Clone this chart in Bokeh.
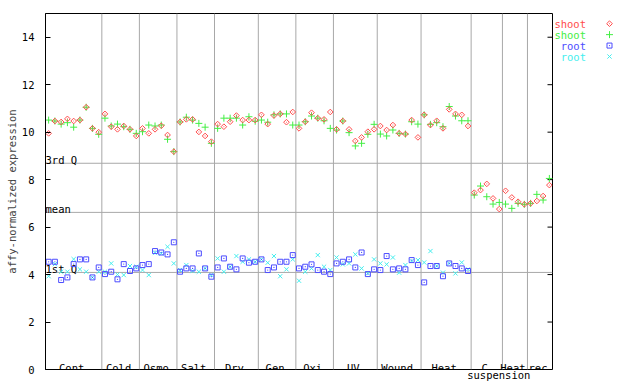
import numpy as np
from bokeh.plotting import figure
from bokeh.layouts import row
from bokeh.models import Range1d, SingleIntervalTicker, Span
from bokeh.core.properties import value
from bokeh.embed import file_html
from bokeh.resources import INLINE

# ---------------- data ----------------
groups = ["Cont", "Cold", "Osmo", "Salt", "Dry", "Gen", "Oxi", "UV", "Wound", "Heat", "C", "Heat", "rec"]
group_sizes = [9, 6, 6, 6, 7, 6, 6, 7, 7, 8, 5, 4, 4]
sub_label = "suspension"
sub_label_group = 10

shoot1 = [9.95, 10.47, 10.43, 10.56, 10.47, 10.51, 11.05, 10.16, 10.00,
          10.77, 10.23, 10.12, 10.26, 10.12, 9.84,
          10.16, 9.95, 10.12, 10.27, 9.88, 9.18,
          10.43, 10.54, 10.54, 10.01, 9.84, 9.60,
          10.34, 10.23, 10.44, 10.70, 10.51, 10.51, 10.51,
          10.73, 10.34, 10.70, 10.77, 10.42, 10.85,
          10.16, 10.44, 10.82, 10.59, 10.54, 10.85,
          10.12, 10.47, 10.12, 9.63, 9.78, 10.02, 10.12,
          10.26, 10.09, 10.30, 9.95, 9.92, 10.51, 9.78,
          10.73, 10.30, 10.48, 10.16, 10.96, 10.77, 10.73, 10.26,
          7.45, 7.56, 7.82, 7.21, 6.76,
          7.53, 7.25, 7.07, 6.96,
          7.00, 7.10, 7.31, 7.77]
shoot2 = [10.51, 10.47, 10.34, 10.40, 10.21, 10.51, 11.05, 10.16, 9.91,
          10.59, 10.26, 10.34, 10.23, 10.12, 9.95,
          10.02, 10.30, 10.26, 10.30, 9.70, 9.18,
          10.43, 10.63, 10.51, 10.37, 10.21, 9.53,
          10.16, 10.59, 10.59, 10.59, 10.30, 10.65, 10.46,
          10.51, 10.42, 10.73, 10.77, 10.77, 10.30,
          10.30, 10.44, 10.68, 10.59, 10.48, 10.16,
          10.09, 10.47, 9.98, 9.42, 9.53, 9.91, 10.33,
          9.92, 9.84, 10.09, 9.95, 9.92, 10.44, 10.34,
          10.73, 10.33, 10.40, 10.23, 11.08, 10.68, 10.48, 10.48,
          7.35, 7.73, 7.28, 6.97, 7.04,
          6.97, 6.79, 7.00, 6.96,
          7.00, 7.38, 7.14, 8.05]
root1 = [4.54, 4.54, 3.77, 3.88, 4.44, 4.64, 4.64, 3.88, 4.30,
         4.02, 4.12, 3.80, 4.44, 4.15, 4.26,
         4.40, 4.44, 4.99, 4.93, 4.85, 5.36,
         4.12, 4.26, 4.26, 4.89, 4.26, 3.91,
         4.30, 4.68, 4.33, 4.22, 4.68, 4.50, 4.54,
         4.64, 4.19, 4.30, 4.54, 4.54, 4.82,
         4.26, 4.33, 4.43, 4.19, 4.12, 4.02,
         4.47, 4.54, 4.64, 4.30, 4.93, 4.02, 4.22,
         4.19, 4.78, 4.22, 4.26, 4.22, 4.61, 4.40,
         3.67, 4.36, 4.36, 3.93, 4.47, 4.36, 4.26, 4.15]
root2 = [3.93, 4.44, 4.12, 4.12, 4.65, 4.22, 4.12, 3.88, 4.12,
         4.12, 4.47, 4.00, 3.98, 4.36, 4.33,
         4.19, 3.98, 4.92, 4.89, 5.17, 4.47,
         4.19, 4.40, 4.15, 4.12, 4.26, 3.98,
         4.68, 4.12, 4.33, 4.78, 4.54, 4.64, 4.54,
         4.64, 4.50, 4.78, 3.93, 4.22, 4.64,
         3.74, 4.12, 4.26, 4.82, 4.33, 4.19,
         4.72, 4.43, 4.47, 4.85, 4.26, 4.05, 4.64,
         4.47, 4.43, 4.72, 4.08, 4.40, 4.57, 4.61,
         4.51, 4.99, 4.36, 4.08, 4.47, 4.05, 4.51, 4.22]

stat_names = ["3rd Q", "mean", "1st Q"]
stat_values = [8.69, 6.62, 4.09]

series_names = ["shoot", "shoot", "root", "root"]
y_ticks = [0, 2, 4, 6, 8, 10, 12, 14]

# ---------------- styles ----------------
FONT = "DejaVu Sans Mono"
FS = "10.5px"
RED, GREEN, BLUE, CYAN = "#ff4c4c", "#44ee44", "#4c4cff", "#44eeee"
GRAY = "#a8a8a8"
DIAMOND_SIZE = 4.0

n_total = sum(group_sizes)
bounds = np.cumsum([0] + group_sizes)
centers = [(bounds[i] + bounds[i + 1]) / 2 for i in range(len(groups))]

TOP, LEFT, BOTTOM, RIGHT = 13, 45, 15, 1
FW, FH = 507, 356
TOTAL_H = TOP + FH + BOTTOM

p = figure(frame_width=FW, frame_height=FH,
           x_range=Range1d(0, n_total), y_range=Range1d(0, 15),
           output_backend="svg", toolbar_location=None,
           min_border_left=LEFT, min_border_top=TOP, min_border_bottom=BOTTOM, min_border_right=RIGHT,
           background_fill_color="white", border_fill_color="white")
p.outline_line_color = "black"
p.outline_line_width = 1
p.xgrid.visible = False
p.ygrid.visible = False
p.xaxis.visible = False

# y axis
p.yaxis.ticker = SingleIntervalTicker(interval=2, num_minor_ticks=0)
p.yaxis.major_tick_in = 5
p.yaxis.major_tick_out = 0
p.yaxis.minor_tick_line_color = None
p.yaxis.major_label_standoff = 11
p.yaxis.major_label_text_font = FONT
p.yaxis.major_label_text_font_size = FS
p.yaxis.major_label_text_color = "black"
p.yaxis.axis_label = "affy-normalized expression"
p.yaxis.axis_label_text_font = FONT
p.yaxis.axis_label_text_font_size = FS
p.yaxis.axis_label_text_font_style = "normal"
p.yaxis.axis_label_standoff = 1
p.yaxis.axis_line_color = "black"

# right-side inward ticks
p.ray(x=[n_total] * len(y_ticks), y=y_ticks, length=5, length_units="screen",
      angle=np.pi, line_color="black", line_width=1)

# separators and statistic lines
for b in bounds[1:-1]:
    p.add_layout(Span(location=float(b), dimension="height", line_color=GRAY, line_width=1, level="underlay"))
for v in stat_values:
    p.add_layout(Span(location=v, dimension="width", line_color=GRAY, line_width=1, level="underlay"))

p.text(x=[0] * len(stat_names), y=stat_values, text=stat_names, text_align="left",
       text_baseline="alphabetic", x_offset=0, y_offset=-3, text_color="black",
       text_font=value(FONT), text_font_size=FS)

# group labels
p.text(x=centers, y=[0] * len(groups), text=groups, text_align="center",
       text_baseline="alphabetic", x_offset=-2, y_offset=-2, text_color="black",
       text_font=value(FONT), text_font_size=FS)
p.text(x=[centers[sub_label_group]], y=[0], text=[sub_label], text_align="center",
       text_baseline="top", x_offset=12, y_offset=-1, text_color="black",
       text_font=value(FONT), text_font_size=FS, level="overlay")

# data
xs = np.arange(n_total) + 0.5
xr = np.arange(len(root1)) + 0.5
p.scatter(xr, root2, marker="x", size=6, line_color=CYAN, line_width=1)
p.scatter(xr, root1, marker="square_dot", size=5, line_color=BLUE, fill_color=None, line_width=1)
p.scatter(xs, shoot2, marker="cross", size=7, line_color=GREEN, line_width=1)
p.scatter(xs, shoot1, marker="square_dot", size=DIAMOND_SIZE, angle=np.pi / 4, line_color=RED,
          fill_color=None, line_width=1)

# ---------------- legend (separate figure, page-pixel coordinates) ----------------
LEG_X0 = LEFT + FW + RIGHT
LEG_W = 70
leg = figure(width=LEG_W, height=TOTAL_H, x_range=Range1d(LEG_X0, LEG_X0 + LEG_W),
             y_range=Range1d(TOTAL_H, 0), x_axis_type=None, y_axis_type=None,
             output_backend="svg", toolbar_location=None, min_border=0,
             outline_line_color=None, background_fill_color="white", border_fill_color="white")
leg.xgrid.visible = False
leg.ygrid.visible = False
leg_y = [11.0, 22.8, 34.6, 46.4]
leg_colors = [RED, GREEN, BLUE, CYAN]
leg.text(x=[585.5] * 4, y=leg_y, text=series_names, text_color=leg_colors, text_align="right",
         text_baseline="middle", text_font=value(FONT), text_font_size=FS)
leg.scatter([609], [leg_y[0]], marker="square_dot", size=DIAMOND_SIZE, angle=np.pi / 4, line_color=RED,
            fill_color=None)
leg.scatter([609], [leg_y[1]], marker="cross", size=7, line_color=GREEN)
leg.scatter([609], [leg_y[2]], marker="square_dot", size=5, line_color=BLUE, fill_color=None)
leg.scatter([609], [leg_y[3]], marker="x", size=6, line_color=CYAN)

layout = row(p, leg)
open("out.html", "w").write(file_html(layout, INLINE))
